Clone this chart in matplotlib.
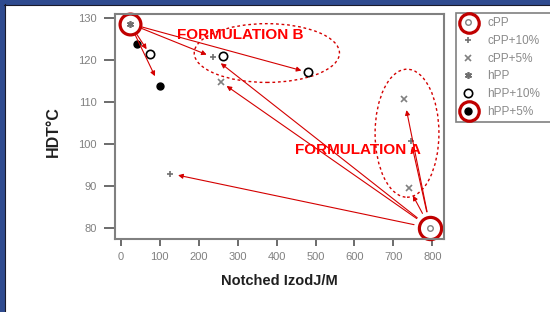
import numpy as np
import matplotlib.pyplot as plt
from matplotlib.patches import Ellipse, Rectangle
from matplotlib.lines import Line2D

plt.rcParams['font.family'] = 'Liberation Sans'

# Notched Izod (J/M) vs HDT (deg C)
cpp_x = [795]
cpp_y = [80]
cpp10_x = [126, 237, 745]
cpp10_y = [93, 120.7, 100.8]
cpp5_x = [257, 728, 740]
cpp5_y = [114.8, 110.7, 89.5]
hpp_x = [23]
hpp_y = [128.7]
hpp10_x = [74, 262, 481]
hpp10_y = [121.5, 121.0, 117.1]
hpp5_x = [41, 100]
hpp5_y = [123.9, 113.8]

xticks = [0, 100, 200, 300, 400, 500, 600, 700, 800]
yticks = [80, 90, 100, 110, 120, 130]

red = '#d40000'

fig = plt.figure(figsize=(5.5, 3.12), dpi=100)
ax = fig.add_axes([115/550, 1-239/312, 329/550, 225/312])

ax.plot(cpp_x, cpp_y, 'o', ms=4, mfc='white', mec='#808080', mew=1, label='cPP')
ax.plot(cpp10_x, cpp10_y, '+', ms=5, mec='#707070', mew=1.2, label='cPP+10%')
ax.plot(cpp5_x, cpp5_y, 'x', ms=4, mec='#808080', mew=1.2, label='cPP+5%')
ax.plot(hpp_x, hpp_y, marker=(6, 2, 0), ls='', ms=5, mec='#707070', mew=1.2, label='hPP')
ax.plot(hpp10_x, hpp10_y, 'o', ms=6, mfc='white', mec='black', mew=1.2, label='hPP+10%')
ax.plot(hpp5_x, hpp5_y, 'o', ms=5, mfc='black', mec='black', label='hPP+5%')

# red highlight circles
ax.plot(hpp_x, hpp_y, 'o', ms=15, mfc='none', mec='#c00000', mew=2.3, clip_on=False)
ax.plot(cpp_x, cpp_y, 'o', ms=16, mfc='none', mec='#c00000', mew=2.3, clip_on=False)

# arrows from hPP and cPP to the formulations
src_h = (hpp_x[0], hpp_y[0])
src_c = (cpp_x[0], cpp_y[0])
arrows = [(src_h, (hpp10_x[0], hpp10_y[0]), 4),
          (src_h, (hpp5_x[1], hpp5_y[1]), 8),
          (src_h, (cpp10_x[1], cpp10_y[1]), 5),
          (src_h, (hpp10_x[2], hpp10_y[2]), 5),
          (src_c, (cpp10_x[0], cpp10_y[0]), 6),
          (src_c, (cpp10_x[1], cpp10_y[1]), 7),
          (src_c, (cpp5_x[0], cpp5_y[0]), 5),
          (src_c, (cpp5_x[1], cpp5_y[1]), 8),
          (src_c, (cpp10_x[2], cpp10_y[2]), 4),
          (src_c, (cpp5_x[2], cpp5_y[2]), 6)]
for s, t, sh in arrows:
    sa = 9 if s == src_h else 12
    ax.annotate('', xy=t, xytext=s,
                arrowprops=dict(arrowstyle='-|>', color=red, lw=0.8,
                                mutation_scale=7, shrinkA=sa, shrinkB=sh))

# dashed ellipses around formulations
ax.add_patch(Ellipse((375, 121.7), 373, 14, fill=False, ec=red, ls=(0, (2, 2)), lw=1))
ax.add_patch(Ellipse((735, 102.6), 164, 30.5, fill=False, ec=red, ls=(0, (2, 2)), lw=1))

ax.text(306, 126, 'FORMULATION B', color='#ff0000', fontsize=11, fontweight='bold',
        ha='center', va='center')
ax.text(609, 98.6, 'FORMULATION A', color='#ff0000', fontsize=11, fontweight='bold',
        ha='center', va='center')

ax.set_xlim(-15, 830)
ax.set_ylim(77.4, 131)
ax.set_xticks(xticks)
ax.set_yticks(yticks)
ax.tick_params(axis='x', length=5, width=1.3, color='#606060', labelcolor='#808080',
               labelsize=8, pad=4)
ax.tick_params(axis='y', length=8, width=1.3, color='#606060', labelcolor='#808080',
               labelsize=8, pad=5)
for sp in ax.spines.values():
    sp.set_color('#808080')
    sp.set_linewidth(1.5)

ax.set_xlabel('Notched IzodJ/M', fontsize=10.5, fontweight='bold', color='#202020')
ax.set_ylabel('HDT°C', fontsize=11.5, fontweight='bold', color='#202020')
ax.xaxis.set_label_coords(0.5, -0.155)
ax.yaxis.set_label_coords(-0.165, 0.476)

leg = ax.legend(loc='upper left', bbox_to_anchor=(456/550, 1-13/312, 110/550, 0),
                bbox_transform=fig.transFigure, mode='expand', fontsize=8.5,
                frameon=True, fancybox=False, edgecolor='#808080', framealpha=1,
                borderpad=0.35, labelspacing=0.49, handlelength=1.3,
                handletextpad=0.98, borderaxespad=0)
leg.get_frame().set_linewidth(1.2)
for t in leg.get_texts():
    t.set_color('#8a8a8a')

# red circles on legend markers
for yy in (23, 111):
    fig.add_artist(Line2D([469/550], [1-yy/312], marker='o', ms=14, mfc='none',
                          mec='#c00000', mew=2.3, transform=fig.transFigure))

# blue slide border
fig.add_artist(Rectangle((0, 1-4/312), 1, 4/312, transform=fig.transFigure,
                         color='#2f4b8f', zorder=10))
fig.add_artist(Rectangle((0, 0), 4/550, 1, transform=fig.transFigure,
                         color='#2f4b8f', zorder=10))
fig.add_artist(Line2D([4/550, 1], [1-4.5/312, 1-4.5/312], color='#1a1a2a', lw=0.8,
                      transform=fig.transFigure, zorder=10))
fig.add_artist(Line2D([4.5/550, 4.5/550], [0, 1-4/312], color='#1a1a2a', lw=0.8,
                      transform=fig.transFigure, zorder=10))

fig.savefig('out.png', dpi=100)
